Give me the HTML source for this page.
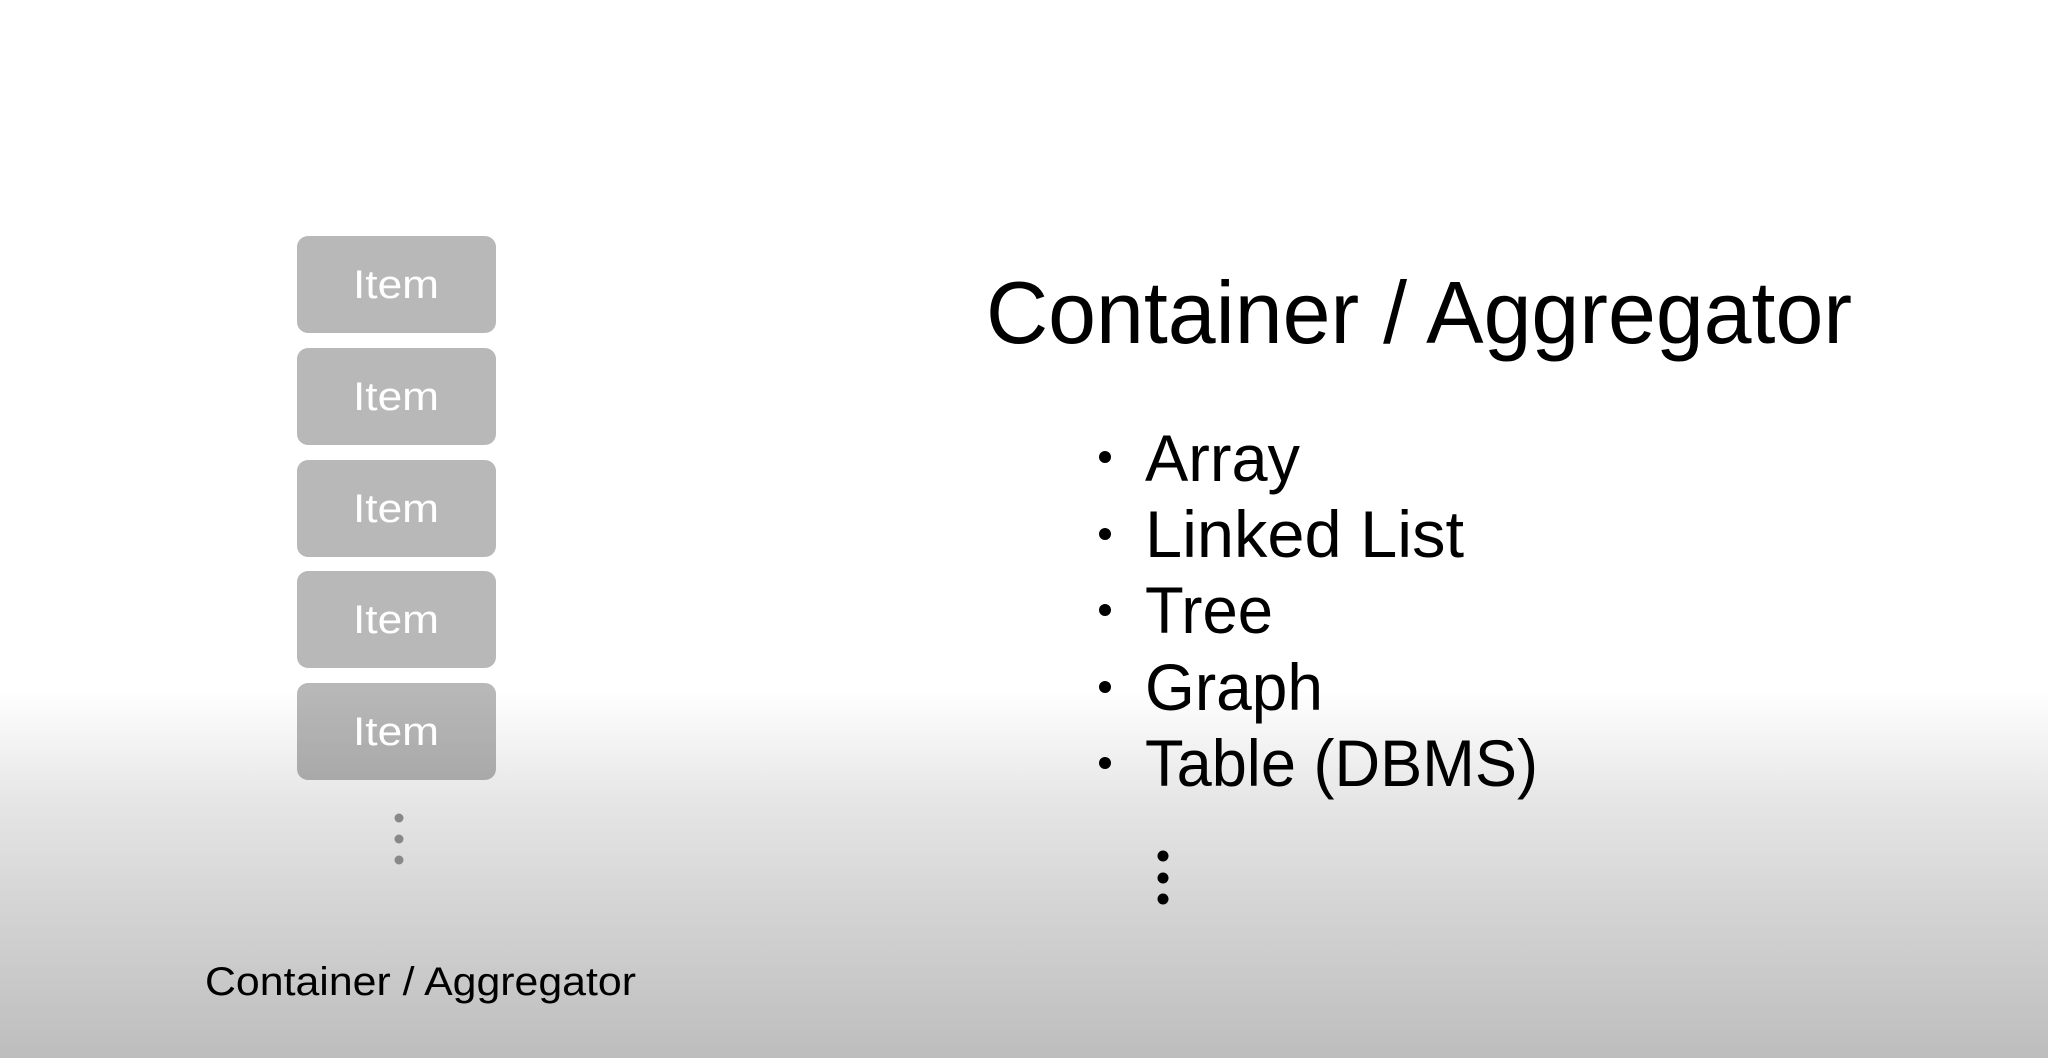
<!DOCTYPE html>
<html><head><meta charset="utf-8"><style>
html,body{margin:0;padding:0;}
body{width:2048px;height:1058px;overflow:hidden;background:linear-gradient(to bottom,#fff 0px,#fff 690px,#e6e6e6 800px,#d2d2d2 920px,#bdbdbd 1058px);}
</style></head><body>
<svg width="2048" height="1058" xmlns="http://www.w3.org/2000/svg" style="position:absolute;left:0;top:0" font-family="Liberation Sans, sans-serif">
<g fill="rgba(0,0,0,0.28)">
<rect x="297" y="236" width="199" height="97" rx="11"/>
<rect x="297" y="348" width="199" height="97" rx="11"/>
<rect x="297" y="460" width="199" height="97" rx="11"/>
<rect x="297" y="571" width="199" height="97" rx="11"/>
<rect x="297" y="683" width="199" height="97" rx="11"/>
</g>
<g fill="#fff" font-size="40" text-anchor="middle">
<text x="396" y="298" textLength="86" lengthAdjust="spacingAndGlyphs">Item</text>
<text x="396" y="410" textLength="86" lengthAdjust="spacingAndGlyphs">Item</text>
<text x="396" y="522" textLength="86" lengthAdjust="spacingAndGlyphs">Item</text>
<text x="396" y="633" textLength="86" lengthAdjust="spacingAndGlyphs">Item</text>
<text x="396" y="745" textLength="86" lengthAdjust="spacingAndGlyphs">Item</text>
</g>
<g fill="#888">
<circle cx="399" cy="818" r="4.5"/><circle cx="399" cy="839" r="4.5"/><circle cx="399" cy="860" r="4.5"/>
</g>
<text x="205" y="995" font-size="40" fill="#000" textLength="431" lengthAdjust="spacingAndGlyphs">Container / Aggregator</text>
<text x="986" y="343" font-size="88" fill="#000" textLength="866" lengthAdjust="spacingAndGlyphs">Container / Aggregator</text>
<g fill="#000">
<circle cx="1105" cy="457" r="6"/><circle cx="1105" cy="534" r="6"/><circle cx="1105" cy="610" r="6"/><circle cx="1105" cy="687" r="6"/><circle cx="1105" cy="763" r="6"/>
<circle cx="1163" cy="856" r="5.5"/><circle cx="1163" cy="878" r="5.5"/><circle cx="1163" cy="899" r="5.5"/>
</g>
<g fill="#000" font-size="66">
<text x="1145" y="481" textLength="155" lengthAdjust="spacingAndGlyphs">Array</text>
<text x="1145" y="557" textLength="319" lengthAdjust="spacingAndGlyphs">Linked List</text>
<text x="1145" y="633" textLength="128" lengthAdjust="spacingAndGlyphs">Tree</text>
<text x="1145" y="710" textLength="178" lengthAdjust="spacingAndGlyphs">Graph</text>
<text x="1145" y="786" textLength="393" lengthAdjust="spacingAndGlyphs">Table (DBMS)</text>
</g>
</svg>
</body></html>
